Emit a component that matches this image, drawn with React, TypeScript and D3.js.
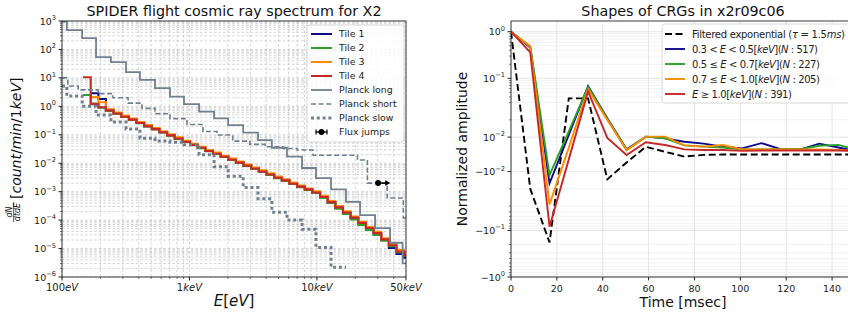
import React from "react";
import * as d3 from "d3";

const W = 848;
const H = 320;
const FONT = "DejaVu Sans, Verdana, sans-serif";

// ---- left panel: SPIDER X2 cosmic ray spectrum (energy in eV) ----
const tileEdges = [146, 168, 193, 221, 254, 292, 335, 384, 441, 507, 582, 668, 767, 881, 1011, 1161, 1333, 1530, 1757, 2017, 2316, 2659, 3053, 3505, 4024, 4620, 5305, 6090, 6993, 8028, 9218, 10583, 12151, 13951, 16017, 18390, 21114, 24242, 27833, 31956, 36690, 42125, 48365, 50000];
const tile1 = [null, 2.9, 1.8, 0.72, 0.57, 0.43, 0.34, 0.26, 0.2, 0.16, 0.124, 0.096, 0.075, 0.058, 0.044, 0.035, 0.027, 0.0215, 0.017, 0.0134, 0.0106, 0.0082, 0.0065, 0.0051, 0.004, 0.0031, 0.0025, 0.0019, 0.0015, 0.0012, 0.00094, 0.00064, 0.00042, 0.00027, 0.00018, 0.00012, 0.000078, 0.000051, 0.000033, 0.00002, 0.0000105, 0.0000065, 0.0000048];
const tile2 = [2.5, 1.25, 0.9, 0.7, 0.55, 0.42, 0.33, 0.255, 0.195, 0.155, 0.12, 0.093, 0.072, 0.056, 0.043, 0.034, 0.0265, 0.021, 0.0165, 0.013, 0.0103, 0.008, 0.0063, 0.005, 0.0039, 0.003, 0.0024, 0.00185, 0.00145, 0.00116, 0.0009, 0.00061, 0.0004, 0.00025, 0.000165, 0.000105, 0.000068, 0.000045, 0.00003, 0.000019, 0.000012, 0.0000075, 0.0000056];
const tile3 = [null, 2.1, 1.4, 0.78, 0.6, 0.47, 0.37, 0.28, 0.22, 0.172, 0.133, 0.103, 0.081, 0.062, 0.048, 0.038, 0.029, 0.0235, 0.0184, 0.0145, 0.0115, 0.009, 0.0071, 0.0056, 0.0044, 0.0034, 0.0027, 0.0021, 0.00165, 0.0013, 0.00103, 0.00071, 0.00047, 0.00031, 0.000205, 0.000134, 0.000088, 0.000058, 0.000039, 0.000023, 0.0000145, 0.0000088, 0.0000063];
const tile4 = [10.5, 1.2, 0.93, 0.72, 0.56, 0.43, 0.34, 0.26, 0.2, 0.158, 0.123, 0.095, 0.074, 0.057, 0.044, 0.035, 0.027, 0.0215, 0.0169, 0.0133, 0.0105, 0.0082, 0.0065, 0.0051, 0.004, 0.0031, 0.0025, 0.0019, 0.0015, 0.0012, 0.00094, 0.00065, 0.00043, 0.00028, 0.000186, 0.000122, 0.00008, 0.000053, 0.000035, 0.000021, 0.000013, 0.0000079, 0.0000058];

const planckLongEdges = [100, 109, 144, 185, 242, 318, 409, 536, 704, 906, 1190, 1560, 2010, 2640, 3450, 4430, 5820, 7640, 9830, 12900, 16900, 21800, 28600, 37500, 47000, 50000];
const planckLong = [950, 480, 250, 54, 36, 16, 8.5, 4.4, 2.2, 1.2, 0.65, 0.38, 0.22, 0.12, 0.065, 0.035, 0.017, 0.0068, 0.003, 0.0012, 0.00044, 0.00015, 0.000052, 0.000016, 0.000003];

const planckShortEdges = [100, 111, 134, 192, 251, 330, 424, 537, 704, 956, 1276, 1648, 2184, 2974, 3933, 5420, 6990, 9330, 20800, 24900, 35600, 47600, 50000];
const planckShort = [10, 5.2, 3.8, 2.8, 2.0, 1.3, 0.85, 0.55, 0.37, 0.23, 0.13, 0.098, 0.06, 0.046, 0.038, 0.033, 0.029, 0.019, 0.013, 0.002, 0.0006, 0.00012];

const planckSlowEdges = [100, 109, 144, 185, 242, 318, 409, 536, 704, 906, 1190, 1560, 2010, 2640, 3450, 4430, 5820, 7640, 9830, 12900, 16900];
const planckSlow = [5.2, 2.3, 1.0, 0.5, 0.28, 0.16, 0.075, 0.06, 0.055, 0.045, 0.02, 0.0075, 0.0035, 0.0014, 0.00056, 0.00019, 0.0001, 0.000048, 0.000011, 0.0000022];

const fluxJumpE = [30200];
const fluxJumpEnd = [37600];
const fluxJumpRate = [0.002];

const energyTicks = [100, 1000, 10000, 50000];
const energyTickLabels = [["100", "eV"], ["1", "keV"], ["10", "keV"], ["50", "keV"]];
const rateTickExps = [3, 2, 1, 0, -1, -2, -3, -4, -5, -6];

// ---- right panel: CRG shapes in x2r09c06 (time in msec) ----
const crgTimes = [0, 8.4, 16.8, 25.2, 33.6, 42, 50.4, 58.8, 67.2, 75.6, 84, 92.4, 100.8, 109.2, 117.6, 126, 134.4, 142.8, 151.2];
const crgFiltered = [1.0, -0.02, -0.18, 0.037, 0.037, -0.0145, -0.0047, 0.0044, 0.0015, -0.0013, -0.0003, -0.0001, -0.0001, -0.0001, -0.0001, -0.0001, -0.0001, -0.0001, -0.0001];
const crgLow = [1.0, 0.46, -0.0168, 0.0113, 0.068, 0.021, 0.0029, 0.0103, 0.0093, 0.0073, 0.0062, 0.0045, 0.0035, 0.0065, 0.003, 0.0028, 0.0062, 0.004, 0.0015];
const crgMid = [1.0, 0.49, -0.012, 0.0134, 0.065, 0.0207, 0.0025, 0.0103, 0.0093, 0.0052, 0.0045, 0.004, 0.0028, 0.0028, 0.003, 0.003, 0.005, 0.0055, 0.0025];
const crgHigh = [1.0, 0.48, -0.029, 0.0039, 0.058, 0.0199, 0.0025, 0.0103, 0.0103, 0.0052, 0.0045, 0.0054, 0.0028, 0.0028, 0.0028, 0.0028, 0.0028, 0.0026, 0.002];
const crgTop = [1.0, 0.36, -0.083, -0.0029, 0.052, 0.0095, -0.0004, 0.007, 0.0054, 0.0029, 0.0025, 0.0025, 0.002, 0.0022, 0.0022, 0.0022, 0.0022, 0.0022, 0.002];

const timeTicks = [0, 20, 40, 60, 80, 100, 120, 140];
const ampTicks = [1, 0.1, 0.01, -0.01, -0.1, -1];
const ampTickExps = ["0", "−1", "−2", "−2", "−1", "0"];

const BLUE = "#0b0b8c";
const GREEN = "#2ca02c";
const ORANGE = "#ff8c00";
const RED = "#c62828";
const SLATE = "#708090";

// matplotlib style symlog (linthresh 0.03, linscale 1)
const LINTHRESH = 0.03;
const LINSCALE = 1 / (1 - 0.1);
const symlog = (v: number) => {
    const a = Math.abs(v);
    if (a <= LINTHRESH) return (v / LINTHRESH) * LINSCALE;
    return Math.sign(v) * (LINSCALE + Math.log10(a / LINTHRESH));
};

const stepPath = (x: any, y: any, edges: number[], vals: (number | null)[]) => {
    const pts: any[] = vals.map((v, i) => [edges[i], v]);
    pts.push([edges[vals.length], vals[vals.length - 1]]);
    return d3
        .line()
        .defined((d: any) => d[1] != null)
        .x((d: any) => x(d[0]))
        .y((d: any) => y(d[1]))
        .curve(d3.curveStepAfter)(pts);
};

const Pow10: any = ({ x, y, exp, sign = "", anchor = "end", size = 9.5 }: any) => (
    <text x={x} y={y} textAnchor={anchor} fontSize={size} fill="#222">
        {sign}10
        <tspan dy={-4.5} fontSize={size * 0.7}>
            {exp}
        </tspan>
    </text>
);

const SpectrumPanel = () => {
    const L = { x0: 62, x1: 406, y0: 21, y1: 277 };
    const x = d3.scaleLog().domain([100, 50000]).range([L.x0, L.x1]);
    const y = d3.scaleLog().domain([1e-6, 1e3]).range([L.y1, L.y0]);

    const minorX: number[] = [];
    for (let d = 2; d <= 4; d++) for (let k = 2; k <= 9; k++) if (k * 10 ** d < 50000) minorX.push(k * 10 ** d);
    const minorY: number[] = [];
    for (let d = -6; d <= 2; d++) for (let k = 2; k <= 9; k++) minorY.push(k * 10 ** d);

    const gridStyle = { stroke: "#c2c2c2", strokeWidth: 0.7, strokeDasharray: "2.6,2" };

    const legend = [
        { label: "Tile 1", color: BLUE, w: 2, dash: undefined },
        { label: "Tile 2", color: GREEN, w: 2, dash: undefined },
        { label: "Tile 3", color: ORANGE, w: 2, dash: undefined },
        { label: "Tile 4", color: RED, w: 2, dash: undefined },
        { label: "Planck long", color: SLATE, w: 1.8, dash: undefined },
        { label: "Planck short", color: SLATE, w: 1.6, dash: "5,2.6" },
        { label: "Planck slow", color: SLATE, w: 3, dash: "3,2.8" },
    ];

    const fx = x(fluxJumpE[0]);
    const fx2 = x(fluxJumpEnd[0]);
    const fy = y(fluxJumpRate[0]);

    return (
        <g>
            <defs>
                <clipPath id="clipL">
                    <rect x={L.x0} y={L.y0} width={L.x1 - L.x0} height={L.y1 - L.y0} />
                </clipPath>
            </defs>
            {/* grid */}
            {[...energyTicks, ...minorX].map((v, i) => (
                <line key={"gx" + i} x1={x(v)} x2={x(v)} y1={L.y0} y2={L.y1} {...gridStyle} />
            ))}
            {[...rateTickExps.map((e) => 10 ** e), ...minorY].map((v, i) => (
                <line key={"gy" + i} x1={L.x0} x2={L.x1} y1={y(v)} y2={y(v)} {...gridStyle} />
            ))}

            <g clipPath="url(#clipL)" fill="none" strokeLinejoin="miter">
                <path d={stepPath(x, y, tileEdges, tile1) as string} stroke={BLUE} strokeWidth={2.1} />
                <path d={stepPath(x, y, tileEdges, tile2) as string} stroke={GREEN} strokeWidth={2.1} />
                <path d={stepPath(x, y, tileEdges, tile3) as string} stroke={ORANGE} strokeWidth={2.1} />
                <path d={stepPath(x, y, tileEdges, tile4) as string} stroke={RED} strokeWidth={2.1} />
                <path d={stepPath(x, y, planckLongEdges, planckLong) as string} stroke={SLATE} strokeWidth={1.8} />
                <path d={stepPath(x, y, planckShortEdges, planckShort) as string} stroke={SLATE} strokeWidth={1.6} strokeDasharray="5,2.6" />
                <path d={stepPath(x, y, planckSlowEdges, planckSlow) as string} stroke={SLATE} strokeWidth={3} strokeDasharray="3,2.8" />
                <line x1={fx} x2={fx2 - 4} y1={fy} y2={fy} stroke="#000" strokeWidth={1.5} />
                <polygon points={`${fx2},${fy} ${fx2 - 5},${fy - 3} ${fx2 - 5},${fy + 3}`} fill="#000" />
                <circle cx={fx} cy={fy} r={3} fill="#000" />
            </g>

            {/* frame and ticks */}
            <rect x={L.x0} y={L.y0} width={L.x1 - L.x0} height={L.y1 - L.y0} fill="none" stroke="#222" strokeWidth={0.9} />
            {energyTicks.map((v, i) => (
                <g key={"tx" + i}>
                    <line x1={x(v)} x2={x(v)} y1={L.y1} y2={L.y1 + 3.5} stroke="#222" />
                    <text x={x(v)} y={291} textAnchor="middle" fontSize={10} fill="#222">
                        {energyTickLabels[i][0]}
                        <tspan fontStyle="italic">{energyTickLabels[i][1]}</tspan>
                    </text>
                </g>
            ))}
            {minorX.map((v, i) => (
                <line key={"mx" + i} x1={x(v)} x2={x(v)} y1={L.y1} y2={L.y1 + 2} stroke="#222" strokeWidth={0.6} />
            ))}
            {rateTickExps.map((e) => (
                <g key={"ty" + e}>
                    <line x1={L.x0 - 3.5} x2={L.x0} y1={y(10 ** e)} y2={y(10 ** e)} stroke="#222" />
                    <Pow10 x={L.x0 - 6} y={y(10 ** e) + 3.5} exp={e < 0 ? "−" + -e : String(e)} size={9.5} />
                </g>
            ))}
            {minorY.map((v, i) => (
                <line key={"my" + i} x1={L.x0 - 2} x2={L.x0} y1={y(v)} y2={y(v)} stroke="#222" strokeWidth={0.6} />
            ))}

            {/* legend */}
            <rect x={307} y={25} width={97} height={117} rx={2.5} fill="#fff" fillOpacity={0.85} stroke="#d0d0d0" strokeWidth={0.8} />
            {legend.map((d, i) => (
                <g key={d.label}>
                    <line x1={311} x2={332} y1={34 + i * 14} y2={34 + i * 14} stroke={d.color} strokeWidth={d.w} strokeDasharray={d.dash} />
                    <text x={339} y={34 + i * 14 + 3.4} fontSize={9.4} fill="#222">
                        {d.label}
                    </text>
                </g>
            ))}
            <g>
                <line x1={316} x2={327} y1={132} y2={132} stroke="#000" strokeWidth={1.4} />
                <line x1={316} x2={316} y1={129.5} y2={134.5} stroke="#000" strokeWidth={1.2} />
                <line x1={327} x2={327} y1={129.5} y2={134.5} stroke="#000" strokeWidth={1.2} />
                <circle cx={321.5} cy={132} r={3} fill="#000" />
                <text x={339} y={135.4} fontSize={9.4} fill="#222">
                    Flux jumps
                </text>
            </g>

            {/* titles */}
            <text x={234} y={16} textAnchor="middle" fontSize={14.3} fill="#111">
                SPIDER flight cosmic ray spectrum for X2
            </text>
            <text x={234} y={306} textAnchor="middle" fontSize={15} fill="#111" style={{ whiteSpace: "pre" }}>
                <tspan fontStyle="italic">E</tspan>[<tspan fontStyle="italic">eV</tspan>]
            </text>
            <g transform="translate(21,149) rotate(-90)" fill="#111">
                <text x={-63} y={-9.5} textAnchor="middle" fontSize={8} fontStyle="italic">
                    dN
                </text>
                <line x1={-73} x2={-53} y1={-7.3} y2={-7.3} stroke="#111" strokeWidth={0.7} />
                <text x={-63} y={-0.6} textAnchor="middle" fontSize={8} fontStyle="italic">
                    dtdE
                </text>
                <text x={-50} y={0} fontSize={14} style={{ whiteSpace: "pre" }}>
                    [<tspan fontStyle="italic">count</tspan>/<tspan fontStyle="italic">min</tspan>/1<tspan fontStyle="italic">keV</tspan>]
                </text>
            </g>
        </g>
    );
};

const ShapePanel = () => {
    const R = { x0: 511, x1: 855, y0: 21, y1: 277 };
    const x = d3.scaleLinear().domain([0, 150]).range([R.x0, R.x1]);
    const yT = d3.scaleLinear().domain([symlog(-1), symlog(1.7)]).range([R.y1, R.y0]);
    const y = (v: number) => yT(symlog(v));

    const minorY: number[] = [];
    for (const s of [1, -1]) for (let d = -2; d <= -1; d++) for (let k = 2; k <= 9; k++) minorY.push(s * k * 10 ** d);

    const line = (vals: number[]) =>
        d3
            .line()
            .x((d: any) => x(d[0]))
            .y((d: any) => y(d[1]))(crgTimes.map((t, i) => [t, vals[i]]) as any) as string;

    const series = [
        { vals: crgFiltered, color: "#000", dash: "7,3.5" },
        { vals: crgLow, color: BLUE, dash: undefined },
        { vals: crgMid, color: GREEN, dash: undefined },
        { vals: crgHigh, color: ORANGE, dash: undefined },
        { vals: crgTop, color: RED, dash: undefined },
    ];

    // legend text widths follow the mathtext spacing of the original
    const legend: any[] = [
        { parts: [["Filtered exponential (", 0], ["τ", 1], [" = 1.5", 0], ["ms", 1], [")", 0]], color: "#000", dash: "7,3.5", len: 153 },
        { parts: [["0.3 < ", 0], ["E", 1], [" < 0.5[", 0], ["keV", 1], ["](", 0], ["N", 1], [" : 517)", 0]], color: BLUE, len: 126 },
        { parts: [["0.5 ≤ ", 0], ["E", 1], [" < 0.7[", 0], ["keV", 1], ["](", 0], ["N", 1], [" : 227)", 0]], color: GREEN, len: 128 },
        { parts: [["0.7 ≤ ", 0], ["E", 1], [" < 1.0[", 0], ["keV", 1], ["](", 0], ["N", 1], [" : 205)", 0]], color: ORANGE, len: 128 },
        { parts: [["E", 1], [" ≥ 1.0[", 0], ["keV", 1], ["](", 0], ["N", 1], [" : 391)", 0]], color: RED, len: 100 },
    ];

    return (
        <g>
            <defs>
                <clipPath id="clipR">
                    <rect x={R.x0} y={R.y0} width={R.x1 - R.x0} height={R.y1 - R.y0} />
                </clipPath>
            </defs>
            {minorY.map((v, i) => (
                <line key={"gm" + i} x1={R.x0} x2={R.x1} y1={y(v)} y2={y(v)} stroke="#ececec" strokeWidth={0.7} />
            ))}
            {ampTicks.map((v, i) => (
                <line key={"gy" + i} x1={R.x0} x2={R.x1} y1={y(v)} y2={y(v)} stroke="#dedede" strokeWidth={0.8} />
            ))}
            {timeTicks.map((t) => (
                <line key={"gx" + t} x1={x(t)} x2={x(t)} y1={R.y0} y2={R.y1} stroke="#dedede" strokeWidth={0.8} />
            ))}

            <g clipPath="url(#clipR)" fill="none" strokeLinejoin="miter">
                {series.map((s, i) => (
                    <path key={i} d={line(s.vals)} stroke={s.color} strokeWidth={1.9} strokeDasharray={s.dash} />
                ))}
            </g>

            <line x1={R.x0} x2={R.x0} y1={R.y0} y2={R.y1} stroke="#222" strokeWidth={0.9} />
            <line x1={R.x0} x2={R.x1} y1={R.y1} y2={R.y1} stroke="#222" strokeWidth={0.9} />
            <line x1={R.x0} x2={R.x1} y1={R.y0} y2={R.y0} stroke="#222" strokeWidth={0.9} />

            {timeTicks.map((t) => (
                <g key={"tx" + t}>
                    <line x1={x(t)} x2={x(t)} y1={R.y1} y2={R.y1 + 3.5} stroke="#222" />
                    <text x={x(t)} y={292} textAnchor="middle" fontSize={9.5} fill="#222">
                        {t}
                    </text>
                </g>
            ))}
            {ampTicks.map((v, i) => (
                <g key={"ty" + i}>
                    <line x1={R.x0 - 3.5} x2={R.x0} y1={y(v)} y2={y(v)} stroke="#222" />
                    <Pow10 x={R.x0 - 6} y={y(v) + 3.5} exp={ampTickExps[i]} sign={v < 0 ? "−" : ""} size={9.5} />
                </g>
            ))}
            {minorY.map((v, i) => (
                <line key={"my" + i} x1={R.x0 - 2} x2={R.x0} y1={y(v)} y2={y(v)} stroke="#222" strokeWidth={0.6} />
            ))}

            {/* legend */}
            <rect x={662} y={24} width={200} height={79} rx={2.5} fill="#fff" fillOpacity={0.85} stroke="#d0d0d0" strokeWidth={0.8} />
            {legend.map((d, i) => (
                <g key={i}>
                    <line x1={665} x2={685} y1={34 + i * 15} y2={34 + i * 15} stroke={d.color} strokeWidth={1.9} strokeDasharray={d.dash} />
                    <text
                        x={692}
                        y={34 + i * 15 + 3.5}
                        fontSize={10}
                        fill="#222"
                        textLength={d.len}
                        lengthAdjust="spacing"
                        style={{ whiteSpace: "pre" }}
                    >
                        {d.parts.map((p: any, j: number) => (
                            <tspan key={j} fontStyle={p[1] ? "italic" : "normal"}>
                                {p[0]}
                            </tspan>
                        ))}
                    </text>
                </g>
            ))}

            <text x={683} y={16} textAnchor="middle" fontSize={14.3} fill="#111">
                Shapes of CRGs in x2r09c06
            </text>
            <text x={683} y={307} textAnchor="middle" fontSize={14} fill="#111">
                Time [msec]
            </text>
            <text transform="translate(467,149) rotate(-90)" textAnchor="middle" fontSize={14} fill="#111">
                Normalized amplitude
            </text>
        </g>
    );
};

export default function App() {
    return (
        <svg width={W} height={H} style={{ position: "absolute", top: 0, left: 0 }} fontFamily={FONT}>
            <rect width={W} height={H} fill="#fff" />
            <SpectrumPanel />
            <ShapePanel />
        </svg>
    );
}
